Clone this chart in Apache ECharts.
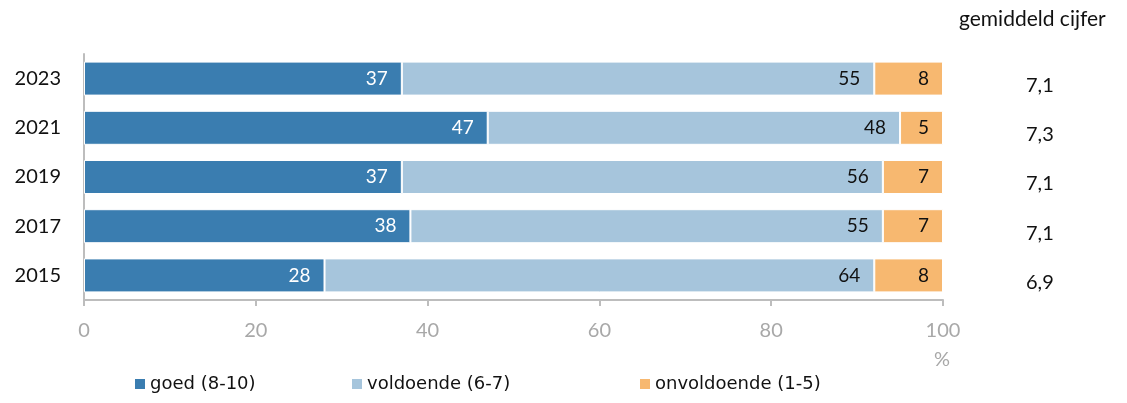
<!DOCTYPE html>
<html>
<head>
<meta charset="utf-8">
<script src="https://cdn.jsdelivr.net/npm/echarts@6/dist/echarts.min.js"></script>
<style>
  html, body { margin: 0; padding: 0; background: #fff; }
  #chart { width: 1127px; height: 403px; }
</style>
</head>
<body>
<div id="chart"></div>
<script>
// Survey years, newest first
const years = ['2023', '2021', '2019', '2017', '2015'];
// Share of ratings per band (%)
const goed = [37, 47, 37, 38, 28];
const voldoende = [55, 48, 56, 55, 64];
const onvoldoende = [8, 5, 7, 7, 8];
// Average grade per year
const gemiddeld = ['7,1', '7,3', '7,1', '7,1', '6,9'];
const xTicks = [0, 20, 40, 60, 80, 100];

const seriesNames = ['goed (8-10)', 'voldoende (6-7)', 'onvoldoende (1-5)'];
const colors = ['#3A7DB0', '#A6C5DC', '#F7B870'];
const labelColors = ['#ffffff', '#111111', '#111111'];
const FONT = 'Lato';

const chart = echarts.init(document.getElementById('chart'), null, { renderer: 'canvas' });

function makeSeries(name, data, i) {
  return {
    name: name,
    type: 'bar',
    stack: 'total',
    data: data,
    barWidth: 34,
    itemStyle: { color: colors[i], borderColor: '#ffffff', borderWidth: 1 },
    label: {
      show: true,
      position: 'insideRight',
      distance: 14,
      color: labelColors[i],
      fontFamily: FONT,
      fontSize: 19
    },
    emphasis: { disabled: true }
  };
}

const legendLefts = [133, 350, 638];

chart.setOption({
  animation: false,
  grid: { left: 84, right: 184, top: 54, bottom: 103, containLabel: false },
  xAxis: {
    type: 'value',
    min: xTicks[0],
    max: xTicks[xTicks.length - 1],
    interval: 20,
    splitLine: { show: false },
    axisLine: { show: true, lineStyle: { color: '#BDBDBD', width: 2 } },
    axisTick: { show: true, length: 6, lineStyle: { color: '#BDBDBD', width: 2 } },
    axisLabel: { color: '#A8A8A8', fontFamily: FONT, fontSize: 20, margin: 21 }
  },
  yAxis: [
    {
      type: 'category',
      data: years,
      inverse: true,
      axisLine: { show: true, lineStyle: { color: '#BDBDBD', width: 2 } },
      axisTick: { show: false },
      axisLabel: { color: '#111111', fontFamily: FONT, fontSize: 20, margin: 23 }
    },
    {
      type: 'category',
      data: gemiddeld,
      inverse: true,
      position: 'right',
      axisLine: { show: false },
      axisTick: { show: false },
      axisLabel: {
        color: '#111111', fontFamily: FONT, fontSize: 20,
        align: 'left', verticalAlign: 'top', lineHeight: 14, margin: 83
      }
    }
  ],
  legend: seriesNames.map((n, i) => ({
    data: [n],
    left: legendLefts[i],
    top: 375,
    padding: 0,
    itemWidth: 12,
    itemHeight: 12,
    itemGap: 6,
    icon: 'rect',
    selectedMode: false,
    textStyle: { color: '#111111', fontFamily: 'DejaVu Sans', fontSize: 18, padding: [0, 0, 0, -1] }
  })),
  graphic: [
    {
      type: 'text',
      left: 959,
      top: 9,
      style: { text: 'gemiddeld cijfer', font: '21px ' + FONT, fill: '#111111' }
    },
    {
      type: 'text',
      left: 934,
      top: 350,
      style: { text: '%', font: '20px ' + FONT, fill: '#A8A8A8' }
    }
  ],
  series: [
    makeSeries(seriesNames[0], goed, 0),
    makeSeries(seriesNames[1], voldoende, 1),
    makeSeries(seriesNames[2], onvoldoende, 2)
  ]
});
</script>
</body>
</html>
